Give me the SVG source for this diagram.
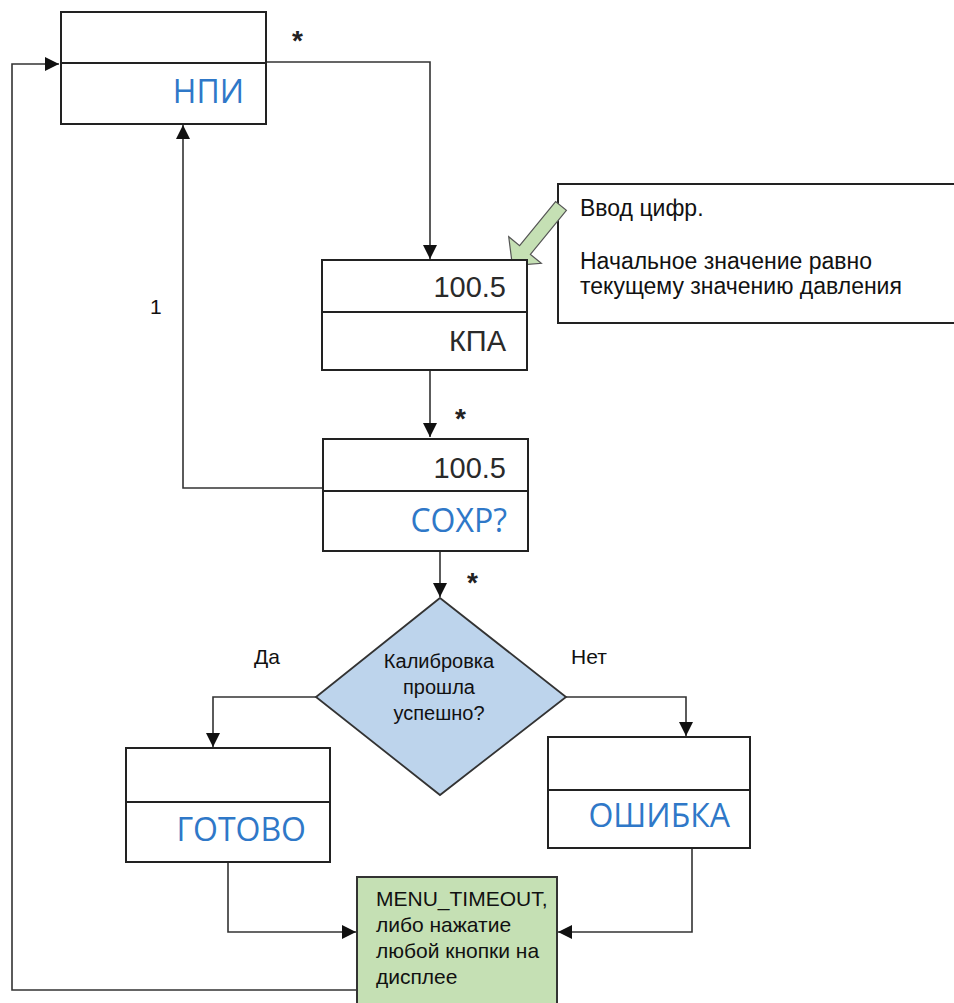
<svg xmlns="http://www.w3.org/2000/svg" width="954" height="1003" viewBox="0 0 954 1003">
<style>
.box{fill:#fff;stroke:#222;stroke-width:2}
.ln{fill:none;stroke:#333;stroke-width:1.6}
.big{font-family:"Open Sans","Liberation Sans",sans-serif;font-size:32px;text-anchor:end}
.num{font-family:"Liberation Sans",Arial,sans-serif;font-size:29px;text-anchor:end;fill:#2a2a2a}
.blue{fill:#2F78C8}
.sm{font-family:"Liberation Sans",Arial,sans-serif;font-size:23px;fill:#111}
.lbl{font-family:"Liberation Sans",Arial,sans-serif;font-size:21px;fill:#111}
.nar{font-family:"Liberation Sans",Arial,sans-serif;font-size:20px;fill:#111}
.grn{font-family:"Liberation Sans",Arial,sans-serif;font-size:21px;fill:#111}
.ast{font-family:"Liberation Sans",Arial,sans-serif;font-size:28px;font-weight:bold;fill:#222}
</style>
<defs>
<marker id="ahb" viewBox="0 0 10 10" refX="10" refY="5" markerWidth="14" markerHeight="14" markerUnits="userSpaceOnUse" orient="auto">
<path d="M0,0 L10,5 L0,10 z" fill="#111"/>
</marker>
</defs>
<rect width="954" height="1003" fill="#fff"/>
<g id="connectors">
<polyline class="ln" points="266,62 430,62 430,259" marker-end="url(#ahb)"/>
<polyline class="ln" points="430,370 430,437" marker-end="url(#ahb)"/>
<polyline class="ln" points="322,488 183,488 183,125" marker-end="url(#ahb)"/>
<polyline class="ln" points="440,551 440,597" marker-end="url(#ahb)"/>
<polyline class="ln" points="316,697 213,697 213,747" marker-end="url(#ahb)"/>
<polyline class="ln" points="566,697 686,697 686,736" marker-end="url(#ahb)"/>
<polyline class="ln" points="228,862 228,932 356,932" marker-end="url(#ahb)"/>
<polyline class="ln" points="692,848 692,932 558,932" marker-end="url(#ahb)"/>
<polyline class="ln" points="357,990 12,990 12,64 59,64" marker-end="url(#ahb)"/>
<text class="ast" x="292" y="50">*</text>
<text class="ast" x="455" y="428">*</text>
<text class="ast" x="467" y="592">*</text>
<text class="lbl" x="150" y="314">1</text>
<text class="lbl" x="254" y="664">Да</text>
<text class="lbl" x="571" y="664">Нет</text>
</g>
<g id="npi">
<rect class="box" x="61" y="12" width="205" height="112"/>
<line x1="61" y1="63" x2="266" y2="63" stroke="#222" stroke-width="2"/>
<text class="big blue" x="244" y="103">НПИ</text>
</g>
<g id="note">
<rect class="box" x="558" y="184" width="400" height="139"/>
<text class="sm" x="580" y="216">Ввод цифр.</text>
<text class="sm" x="580" y="269">Начальное значение равно</text>
<text class="sm" x="580" y="294">текущему значению давления</text>
<polygon points="555.6,201.6 519.6,245.6 508.7,236.7 512.4,265.5 541.3,263.3 530.4,254.4 566.4,210.4" fill="#C5E0B4" stroke="#555" stroke-width="1.2"/>
</g>
<g id="kpa">
<rect class="box" x="322" y="260" width="205" height="110"/>
<line x1="322" y1="312" x2="527" y2="312" stroke="#222" stroke-width="2"/>
<text class="num" x="506" y="297">100.5</text>
<text class="num" x="506" y="351">КПА</text>
</g>
<g id="soxr">
<rect class="box" x="323" y="439" width="205" height="112"/>
<line x1="323" y1="491" x2="528" y2="491" stroke="#222" stroke-width="2"/>
<text class="num" x="506" y="478">100.5</text>
<text class="big blue" x="507" y="532">СОХР?</text>
</g>
<g id="decision">
<polygon points="440,598 566,697 440,795 316,697" fill="#BDD4EC" stroke="#333" stroke-width="1.8"/>
<text class="nar" x="439" y="668" text-anchor="middle">Калибровка</text>
<text class="nar" x="439" y="694" text-anchor="middle">прошла</text>
<text class="nar" x="439" y="720" text-anchor="middle">успешно?</text>
</g>
<g id="gotovo">
<rect class="box" x="126" y="748" width="204" height="114"/>
<line x1="126" y1="802" x2="330" y2="802" stroke="#222" stroke-width="2"/>
<text class="big blue" x="306" y="841">ГОТОВО</text>
</g>
<g id="oshibka">
<rect class="box" x="548" y="737" width="202" height="111"/>
<line x1="548" y1="790" x2="750" y2="790" stroke="#222" stroke-width="2"/>
<text class="big blue" x="730" y="827">ОШИБКА</text>
</g>
<g id="timeout">
<rect x="357" y="877" width="200" height="130" fill="#C5E0B4" stroke="#333" stroke-width="2"/>
<text class="grn" x="376" y="906">MENU_TIMEOUT,</text>
<text class="grn" x="376" y="932">либо нажатие</text>
<text class="grn" x="376" y="958">любой кнопки на</text>
<text class="grn" x="376" y="984">дисплее</text>
</g>
</svg>
